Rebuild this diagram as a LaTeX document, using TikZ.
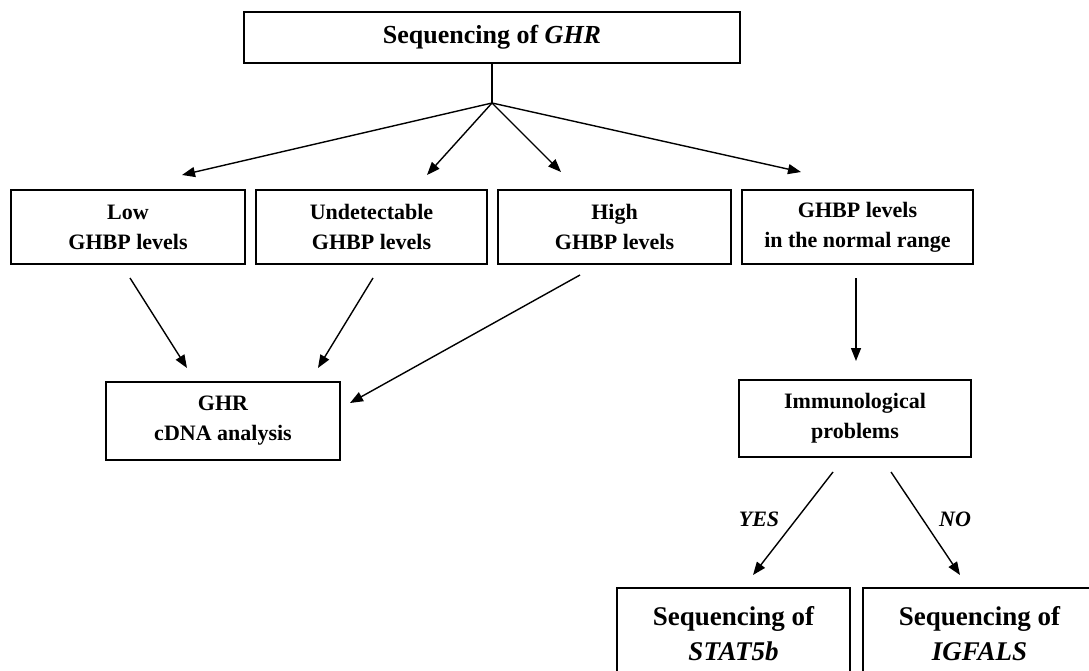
\documentclass[tikz,border=0pt]{standalone}
\usepackage{fontspec}
\setmainfont{Liberation Serif}
\usetikzlibrary{arrows.meta}
\begin{document}
\begin{tikzpicture}[x=1pt,y=-1pt,
  box/.style={draw, line width=2.2pt, inner sep=0pt, align=center,
    font=\bfseries\fontsize{22}{30}\selectfont},
  bigbox/.style={box, font=\bfseries\fontsize{27}{35}\selectfont},
  arr/.style={line width=1.4pt, -{Triangle[length=13pt,width=10pt]}},
  lab/.style={font=\bfseries\itshape\fontsize{22}{26}\selectfont}]
\useasboundingbox (0,0) rectangle (1089,671);
\clip (0,0) rectangle (1089,671);
\node[box, font=\bfseries\fontsize{26}{30}\selectfont, minimum width=496pt, minimum height=51pt] (top) at (492,37.5) {Sequencing of \textit{GHR}};
\node[box, minimum width=234pt, minimum height=74pt] (low) at (128,227) {Low\\GHBP levels};
\node[box, minimum width=231pt, minimum height=74pt] (und) at (371.5,227) {Undetectable\\GHBP levels};
\node[box, minimum width=233pt, minimum height=74pt] (high) at (614.5,227) {High\\GHBP levels};
\node[box, minimum width=231pt, minimum height=74pt] (norm) at (857.5,227) {GHBP levels\\in the normal range};
\node[box, minimum width=234pt, minimum height=78pt] (cdna) at (223,421) {GHR\\cDNA analysis};
\node[box, minimum width=232pt, minimum height=77pt] (imm) at (855,418.5) {Immunological\\problems};
\node[bigbox, minimum width=233pt, minimum height=92pt] (stat) at (733.5,634) {Sequencing of\\\textit{STAT5b}};
\node[bigbox, minimum width=233pt, minimum height=92pt] (igf) at (979.5,634) {Sequencing of\\\textit{IGFALS}};
\coordinate (J) at (492,103);
\coordinate (tLow) at (182,175);
\coordinate (tUnd) at (427,175);
\coordinate (tHigh) at (561,172);
\coordinate (tNorm) at (801,172);
\coordinate (sLow) at (130,278);
\coordinate (eLow) at (187,368);
\coordinate (sUnd) at (373,278);
\coordinate (eUnd) at (318,368);
\coordinate (sHigh) at (580,275);
\coordinate (eHigh) at (350,403);
\coordinate (sNorm) at (856,278);
\coordinate (eNorm) at (856,361);
\coordinate (sYes) at (833,472);
\coordinate (eYes) at (753,575);
\coordinate (sNo) at (891,472);
\coordinate (eNo) at (960,575);
\draw[line width=1.4pt] (top.south -| J) -- (J);
\draw[arr] (J) -- (tLow);
\draw[arr] (J) -- (tUnd);
\draw[arr] (J) -- (tHigh);
\draw[arr] (J) -- (tNorm);
\draw[arr] (sLow) -- (eLow);
\draw[arr] (sUnd) -- (eUnd);
\draw[arr] (sHigh) -- (eHigh);
\draw[arr] (sNorm) -- (eNorm);
\draw[arr] (sYes) -- (eYes);
\draw[arr] (sNo) -- (eNo);
\node[lab] (yes) at (759,519) {YES};
\node[lab] (no) at (955,519) {NO};
\end{tikzpicture}
\end{document}
